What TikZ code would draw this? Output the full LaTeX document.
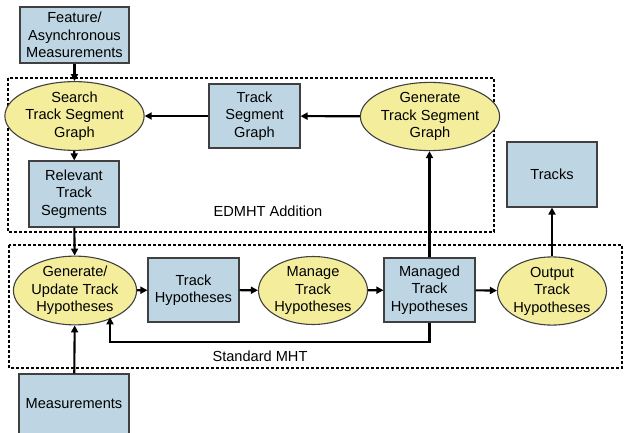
\documentclass[tikz,border=0pt]{standalone}
\usepackage{fontspec}
\setmainfont{Liberation Sans}
\usetikzlibrary{shapes.geometric,arrows.meta}
\definecolor{boxfill}{RGB}{190,214,228}
\definecolor{ellfill}{RGB}{244,238,156}
\definecolor{edge}{RGB}{64,64,64}
\tikzset{
  base/.style={draw=edge,line width=1.1pt,align=center,inner sep=0pt,font=\fontsize{14.6}{17.5}\selectfont},
  rbox/.style={base,rectangle,fill=boxfill,minimum width=91pt,minimum height=64pt},
  ell/.style={base,ellipse,fill=ellfill,minimum width=104pt,minimum height=65pt},
  arr/.style={line width=2.1pt,-{Triangle[length=7pt,width=7pt]}},
  group/.style={draw=black,line width=1.3pt,dash pattern=on 3pt off 2pt},
  lbl/.style={font=\fontsize{14.6}{17.5}\selectfont}
}
\begin{document}
\begin{tikzpicture}[x=1pt,y=-1pt]
\useasboundingbox (0,0) rectangle (624,433);
\draw[group] (8,78) rectangle (494,232);
\draw[group] (9,245) rectangle (622,368);
\node[lbl] (edlbl) at (268,211) {EDMHT Addition};
\node[lbl] (smlbl) at (260,356) {Standard MHT};

\node[rbox,minimum width=109pt,minimum height=56pt] (feat) at (74.5,35) {Feature/\\Asynchronous\\Measurements};
\node[ell,minimum width=103pt,minimum height=63pt] (search) at (74.5,116) {Search\\Track Segment\\Graph};
\node[rbox] (tsg) at (254.5,116) {Track\\Segment\\Graph};
\node[ell] (gtsg) at (430,116.5) {Generate\\Track Segment\\Graph};
\node[rbox,minimum width=90pt,minimum height=66pt] (rel) at (74,194) {Relevant\\Track\\Segments};
\node[rbox,minimum width=90pt,minimum height=65pt] (tracks) at (552,174.5) {Tracks};

\node[ell] (gu) at (75,290.5) {Generate/\\Update Track\\Hypotheses};
\node[rbox] (th) at (193.5,290) {Track\\Hypotheses};
\node[ell] (mg) at (313,290.5) {Manage\\Track\\Hypotheses};
\node[rbox] (mh) at (429.5,290) {Managed\\Track\\Hypotheses};
\node[ell,minimum height=64pt] (out) at (552,291) {Output\\Track\\Hypotheses};
\node[rbox,minimum width=110pt,minimum height=60pt] (meas) at (74,404) {Measurements};

\draw[arr] (feat) -- (search);
\draw[arr] (tsg) -- (search);
\draw[arr] (gtsg) -- (tsg);
\draw[arr] (search) -- (rel);
\draw[arr] (rel) -- (gu);
\draw[arr] (meas) -- (gu);
\draw[arr] (gu) -- (th);
\draw[arr] (th) -- (mg);
\draw[arr] (mg) -- (mh);
\draw[arr] (mh) -- (out);
\draw[arr] (mh.north) -- (mh.north |- gtsg.south);
\draw[arr] (out.north) -- (out.north |- tracks.south);
\coordinate (fb) at (110,342);
\draw[arr] (mh.south) |- (fb) -- (fb |- gu.-34.4);
\end{tikzpicture}
\end{document}
